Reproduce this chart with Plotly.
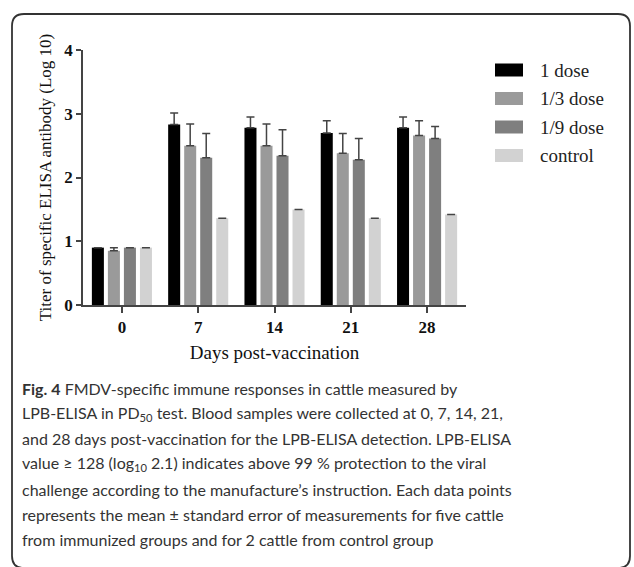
import plotly.graph_objects as go

days = ["0", "7", "14", "21", "28"]
series_names = ["1 dose", "1/3 dose", "1/9 dose", "control"]
dose_1 = [0.90, 2.83, 2.78, 2.70, 2.78]
dose_1_3 = [0.85, 2.50, 2.50, 2.38, 2.66]
dose_1_9 = [0.90, 2.31, 2.34, 2.28, 2.61]
control = [0.90, 1.36, 1.50, 1.36, 1.42]
err_1 = [0.00, 0.18, 0.17, 0.19, 0.17]
err_1_3 = [0.05, 0.34, 0.34, 0.31, 0.23]
err_1_9 = [0.00, 0.38, 0.41, 0.33, 0.19]
err_control = [0, 0, 0, 0, 0]
colors = ["#000000", "#9a9a9a", "#7f7f7f", "#d2d2d2"]

values = [dose_1, dose_1_3, dose_1_9, control]
errors = [err_1, err_1_3, err_1_9, err_control]

W, H = 634, 567
L, R, T, B = 83, 466, 50, 305  # plot area in pixels


def px_x(px):
    return (px - L) / (R - L)


def px_y(py):
    return (B - py) / (B - T)


SERIF = "Liberation Serif, Times New Roman, serif"
SANS = "Lato, Open Sans, sans-serif"

fig = go.Figure()
for name, vals, errs, col in zip(series_names, values, errors, colors):
    fig.add_trace(go.Bar(
        x=days, y=vals, name=name, marker=dict(color=col, line=dict(width=0)),
        error_y=dict(type="data", array=errs, arrayminus=[0] * len(errs),
                     symmetric=False, color="#444444", thickness=1.5, width=4),
        showlegend=False,
    ))

shapes = []
annotations = []

# legend
row_y = [70, 98.5, 127, 155.5]
for name, col, ry in zip(series_names, colors, row_y):
    shapes.append(dict(type="rect", xref="paper", yref="paper",
                       x0=px_x(495), x1=px_x(523), y0=px_y(ry - 6.5), y1=px_y(ry + 6.5),
                       fillcolor=col, line=dict(width=0)))
    annotations.append(dict(text=name, xref="paper", yref="paper", x=px_x(538), y=px_y(ry),
                            xanchor="left", yanchor="middle", showarrow=False,
                            font=dict(family=SERIF, size=19, color="#222222")))

# border (rounded rectangle)
x0, x1, y0, y1, r = 12, 630, 14, 568, 12
def P(px, py):
    return f"{px_x(px):.5f},{px_y(py):.5f}"
path = (f"M {P(x0 + r, y0)} L {P(x1 - r, y0)} Q {P(x1, y0)} {P(x1, y0 + r)} "
        f"L {P(x1, y1 - r)} Q {P(x1, y1)} {P(x1 - r, y1)} L {P(x0 + r, y1)} "
        f"Q {P(x0, y1)} {P(x0, y1 - r)} L {P(x0, y0 + r)} Q {P(x0, y0)} {P(x0 + r, y0)} Z")
shapes.append(dict(type="path", xref="paper", yref="paper", path=path,
                   line=dict(color="#333333", width=1.8), fillcolor="rgba(0,0,0,0)"))

caption_lines = [
    "<b>Fig. 4</b> FMDV-specific immune responses in cattle measured by",
    "LPB-ELISA in PD<sub>50</sub> test. Blood samples were collected at 0, 7, 14, 21,",
    "and 28 days post-vaccination for the LPB-ELISA detection. LPB-ELISA",
    "value ≥ 128 (log<sub>10</sub> 2.1) indicates above 99 % protection to the viral",
    "challenge according to the manufacture’s instruction. Each data points",
    "represents the mean ± standard error of measurements for five cattle",
    "from immunized groups and for 2 cattle from control group",
]
cap_y = [388, 413.3, 438.6, 463.9, 489.2, 514.5, 539.8]
for line, cy in zip(caption_lines, cap_y):
    annotations.append(dict(text=line, xref="paper", yref="paper", x=px_x(20), y=px_y(cy),
                            xanchor="left", yanchor="middle", showarrow=False,
                            font=dict(family=SANS, size=16, color="#333333")))

fig.update_layout(
    width=W, height=H,
    margin=dict(l=L, r=W - R, t=T, b=H - B, pad=0),
    paper_bgcolor="white", plot_bgcolor="white",
    barmode="group", bargap=0.16, bargroupgap=0.25,
    shapes=shapes, annotations=annotations,
    xaxis=dict(type="category", range=[-0.51, 4.51], showgrid=False,
               showline=True, linecolor="#444444", linewidth=1.5,
               ticks="outside", ticklen=6, tickwidth=1.5, tickcolor="#444444",
               tickfont=dict(family=SERIF, size=17, color="#111111", weight="bold"),
               title=dict(text="Days post-vaccination", standoff=10,
                          font=dict(family=SERIF, size=19, color="#111111"))),
    yaxis=dict(range=[0, 4], tickvals=[0, 1, 2, 3, 4], showgrid=False, zeroline=False,
               showline=True, linecolor="#444444", linewidth=1.5,
               ticks="outside", ticklen=5, tickwidth=1.5, tickcolor="#444444",
               tickfont=dict(family=SERIF, size=17, color="#111111", weight="bold"),
               title=dict(text="Titer of specific ELISA antibody (Log 10)", standoff=8,
                          font=dict(family=SERIF, size=17, color="#111111"))),
)

fig.write_html("out.html", config={"displayModeBar": False},
               post_script="document.body.style.margin='0';document.body.style.overflow='hidden';")
